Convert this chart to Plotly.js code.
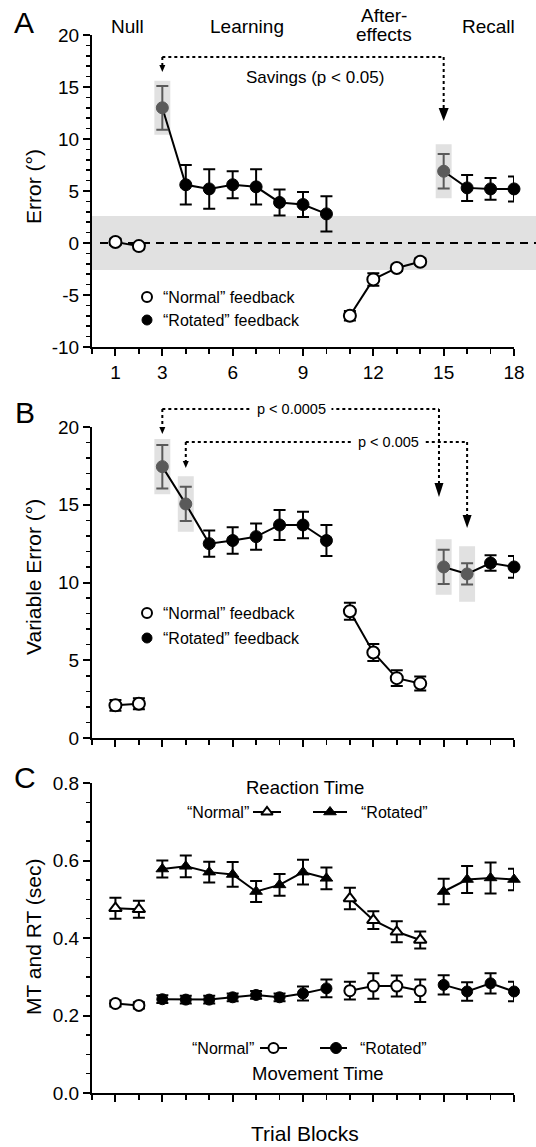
<!DOCTYPE html>
<html><head><meta charset="utf-8">
<script src="https://cdn.plot.ly/plotly-3.0.1.min.js"></script>
<style>html,body{margin:0;padding:0;background:#fff}</style>
</head><body><div id="chart" style="width:536px;height:1147px"></div>
<script>
// ---------------- data ----------------
const blocks   = [1,2,3,4,5,6,7,8,9,10,11,12,13,14,15,16,17,18];
const feedback = ['N','N','R','R','R','R','R','R','R','R','N','N','N','N','R','R','R','R'];
const xTickVals = [1,3,6,9,12,15,18];
const xTickText = ['1','3','6','9','12','15','18'];
const yTickValsA = [-10,-5,0,5,10,15,20];
const yTickTextA = ['-10','-5','0','5','10','15','20'];

// Panel A: directional error (deg) and SE
const errorA   = [0.1,-0.3,13.0,5.6,5.2,5.6,5.4,3.9,3.7,2.8,-7.0,-3.5,-2.4,-1.8,6.9,5.3,5.2,5.2];
const errorASE = [0.3,0.3,2.1,1.9,1.9,1.3,1.7,1.25,1.2,1.7,0.45,0.6,0.3,0.3,1.65,1.25,1.05,1.2];
const highlightA = [3,15];
const bandA = 2.6;

// Panel B: variable error (deg) and SE
const varErrB   = [2.1,2.2,17.45,15.05,12.5,12.7,12.95,13.7,13.7,12.7,8.15,5.5,3.85,3.5,11.0,10.55,11.25,11.0];
const varErrBSE = [0.35,0.35,1.4,1.1,0.85,0.85,0.85,0.97,0.85,1.0,0.55,0.55,0.5,0.45,1.1,0.68,0.5,0.7];
const highlightB = [3,4,15,16];
const bandB = 1.78;

// Panel C: reaction time and movement time (sec)
const reactionT   = [0.477,0.474,0.578,0.585,0.570,0.564,0.520,0.537,0.570,0.554,0.502,0.446,0.416,0.395,0.520,0.551,0.555,0.551];
const reactionTSE = [0.027,0.022,0.022,0.028,0.027,0.032,0.027,0.028,0.032,0.028,0.028,0.023,0.027,0.022,0.033,0.035,0.040,0.028];
const movementT   = [0.231,0.226,0.242,0.241,0.241,0.247,0.253,0.247,0.257,0.270,0.264,0.276,0.276,0.264,0.279,0.262,0.283,0.262];
const movementTSE = [0.008,0.008,0.010,0.010,0.010,0.010,0.010,0.010,0.018,0.023,0.023,0.033,0.027,0.029,0.025,0.024,0.026,0.025];

// ---------------- styling ----------------
const FONT = 'Liberation Sans, Arial, Helvetica, sans-serif';
const GRAY = '#5a5a5a';
const SHADE = '#e1e1e1';
const W = 536, H = 1147, ML = 92, MR = 22, MT = 35, MB = 54;
const PW = W - ML - MR, PH = H - MT - MB;
const bx = b => ML + b * PW / 18;       // block -> pixel x (overlay)
const pxX = x => (x - ML) / PW;           // pixel -> paper
const pxY = y => (H - MB - y) / PH;

const traces = [];
function mask(vals, cond){ return vals.map((v,i)=> cond(i) ? v : null); }

function panel(xa, ya, vals, se, hl, openSym, fillSym, sz){
  const isN = i => feedback[i]==='N';
  const isR = i => feedback[i]==='R';
  const isH = i => hl.indexOf(blocks[i]) >= 0;
  ['N','R'].forEach(f=>{
    traces.push({x:blocks, y:mask(vals,i=>feedback[i]===f), xaxis:xa, yaxis:ya, mode:'lines',
      line:{color:'#000', width:2}, hoverinfo:'skip', showlegend:false, cliponaxis:false});
  });
  const groups = [
    {cond:isN, fill:'#fff', lc:'#000', ec:'#000', sym:openSym, lw:2},
    {cond:i=>isR(i)&&!isH(i), fill:'#000', lc:'#000', ec:'#000', sym:fillSym, lw:1},
    {cond:i=>isR(i)&&isH(i), fill:GRAY, lc:GRAY, ec:GRAY, sym:fillSym, lw:1}
  ];
  groups.forEach(g=>{
    traces.push({x:blocks, y:mask(vals,g.cond), xaxis:xa, yaxis:ya, mode:'markers',
      error_y:{type:'data', array:mask(se,g.cond), color:g.ec, thickness:2, width:6},
      marker:{symbol:g.sym, size:sz, color:g.fill, line:{color:g.lc, width:g.lw}},
      hoverinfo:'skip', showlegend:false, cliponaxis:false});
  });
}
panel('x','y', errorA, errorASE, highlightA, 'circle','circle', 12);
panel('x2','y2', varErrB, varErrBSE, highlightB, 'circle','circle', 12);
panel('x3','y3', reactionT, reactionTSE, [], 'triangle-up','triangle-up', 11);
panel('x3','y3', movementT, movementTSE, [], 'circle','circle', 11);

// ---------------- legend glyphs (overlay pixel axis) ----------------
function glyph(x, y, sym, fill, size, lw){
  traces.push({x:x, y:y, xaxis:'x4', yaxis:'y4', mode:'markers', cliponaxis:false,
    marker:{symbol:sym, size:size, color:fill, line:{color:'#000', width:lw}}, hoverinfo:'skip', showlegend:false});
}
function lineG(x0, x1, y){
  traces.push({x:[x0,x1], y:[y,y], xaxis:'x4', yaxis:'y4', mode:'lines', cliponaxis:false,
    line:{color:'#000', width:2}, hoverinfo:'skip', showlegend:false});
}
glyph([147],[297],'circle','#fff',10,2);
glyph([147],[320],'circle','#000',10,1);
glyph([147],[613],'circle','#fff',10,2);
glyph([147],[638],'circle','#000',10,1);
lineG(253,281,812); glyph([267],[812],'triangle-up','#fff',10,2);
lineG(313,347,812); glyph([330],[812],'triangle-up','#000',11,1);
lineG(260,287,1048); glyph([273.5],[1048],'circle','#fff',10,2);
lineG(320,347,1048); glyph([336],[1048],'circle','#000',11,1);

// ---------------- shapes ----------------
const shapes = [];
shapes.push({type:'rect', xref:'paper', yref:'y', x0:0, x1:(W-ML)/PW, y0:-bandA, y1:bandA,
  fillcolor:SHADE, line:{width:0}, layer:'below'});
shapes.push({type:'line', xref:'paper', yref:'y', x0:8/PW, x1:(W-ML)/PW, y0:0, y1:0,
  line:{color:'#000', width:2, dash:'8px,6px'}, layer:'below'});
highlightA.forEach(b=>{
  const v = errorA[blocks.indexOf(b)];
  shapes.push({type:'rect', xref:'x', yref:'y', x0:b-0.34, x1:b+0.34, y0:v-bandA, y1:v+bandA,
    fillcolor:SHADE, line:{width:0}, layer:'below'});
});
highlightB.forEach(b=>{
  const v = varErrB[blocks.indexOf(b)];
  shapes.push({type:'rect', xref:'x2', yref:'y2', x0:b-0.34, x1:b+0.34, y0:v-bandB, y1:v+bandB,
    fillcolor:SHADE, line:{width:0}, layer:'below'});
});
function dotLine(x0,y0,x1,y1){
  shapes.push({type:'line', xref:'x4', yref:'y4', x0:x0,y0:y0,x1:x1,y1:y1,
    line:{color:'#000', width:2, dash:'dot'}});
}
function head(x, y0, tip, w){
  shapes.push({type:'path', xref:'x4', yref:'y4',
    path:`M ${x-w/2} ${y0} L ${x+w/2} ${y0} L ${x} ${tip} Z`, fillcolor:'#000', line:{width:0}});
}
// Panel A savings arrow
dotLine(bx(3),57,bx(15),57);
dotLine(bx(3),57,bx(3),65); head(bx(3),65,72,6);
dotLine(bx(15),57,bx(15),108); head(bx(15),108,121,10);
// Panel B arrows
dotLine(bx(3),409,bx(14.8),409);
dotLine(bx(3),409,bx(3),427); head(bx(3),427,434,6);
dotLine(bx(14.8),409,bx(14.8),483); head(bx(14.8),483,497,9);
dotLine(bx(4),442,bx(16),442);
dotLine(bx(4),442,bx(4),461); head(bx(4),461,468,6);
dotLine(bx(16),442,bx(16),515); head(bx(16),515,528,9);

// ---------------- annotations (paper refs, positions given in pixels) ----------------
const ann = [];
function txt(x,y,t,size,opts){
  ann.push(Object.assign({xref:'paper', yref:'paper', x:pxX(x), y:pxY(y), text:t, showarrow:false,
    xanchor:'center', yanchor:'middle', font:{family:FONT, size:size, color:'#000'}}, opts||{}));
}
txt(24,23,'A',30); txt(25,413,'B',30); txt(25,777,'C',30);
txt(127,27,'Null',19); txt(247,27,'Learning',19);
txt(384,16,'After-',19); txt(384,34,'effects',19);
txt(488,27,'Recall',19);
txt(33,187,'Error (°)',21,{textangle:-90});
txt(33,577,'Variable Error (°)',21,{textangle:-90});
txt(33,937,'MT and RT (sec)',21,{textangle:-90});
txt(305,1133,'Trial Blocks',21);
txt(315,77,'Savings (p &lt; 0.05)',17);
txt(291,409,' p &lt; 0.0005 ',14.5,{bgcolor:'#fff'});
txt(388,442,' p &lt; 0.005 ',14.5,{bgcolor:'#fff'});
txt(161,297,'“Normal” feedback',16,{xanchor:'left'});
txt(161,320,'“Rotated” feedback',16,{xanchor:'left'});
txt(161,613,'“Normal” feedback',16,{xanchor:'left'});
txt(161,638,'“Rotated” feedback',16,{xanchor:'left'});
txt(305,787,'Reaction Time',18.5);
txt(251,812,'“Normal”',16,{xanchor:'right'});
txt(359,812,'“Rotated”',16,{xanchor:'left'});
txt(256,1048,'“Normal”',16,{xanchor:'right'});
txt(358,1048,'“Rotated”',16,{xanchor:'left'});
txt(318,1073,'Movement Time',18.5);

// ---------------- layout ----------------
const axBase = {showline:true, linewidth:2, linecolor:'#000', ticks:'outside', ticklen:7, tickwidth:2,
  tickcolor:'#000', showgrid:false, zeroline:false, fixedrange:true,
  tickfont:{family:FONT, size:19, color:'#000'}};
const xBase = Object.assign({}, axBase, {range:[0,18], domain:[0,1], tickmode:'array',
  tickvals:xTickVals, ticktext:xTickText,
  minor:{tickmode:'linear', tick0:0, dtick:1, ticklen:5, tickwidth:1.5, tickcolor:'#000'}});
const dom = (top,bot) => [pxY(bot), pxY(top)];

const layout = {
  width:W, height:H, margin:{l:ML, r:MR, t:MT, b:MB}, paper_bgcolor:'#fff', plot_bgcolor:'rgba(0,0,0,0)',
  font:{family:FONT, color:'#000'}, showlegend:false,
  xaxis: Object.assign({}, xBase, {anchor:'y'}),
  xaxis2: Object.assign({}, xBase, {anchor:'y2', showticklabels:false}),
  xaxis3: Object.assign({}, xBase, {anchor:'y3', showticklabels:false}),
  yaxis: Object.assign({}, axBase, {anchor:'x', domain:dom(35,347), range:[-10,20], tickmode:'array',
    tickvals:yTickValsA, ticktext:yTickTextA,
    minor:{tickmode:'linear', tick0:0, dtick:1, ticklen:4, tickwidth:1.5, tickcolor:'#000'}}),
  yaxis2: Object.assign({}, axBase, {anchor:'x2', domain:dom(427,738), range:[0,20], dtick:5, tick0:0,
    minor:{tickmode:'linear', tick0:0, dtick:1, ticklen:4, tickwidth:1.5, tickcolor:'#000'}}),
  yaxis3: Object.assign({}, axBase, {anchor:'x3', domain:dom(783,1093), range:[0,0.8], dtick:0.2, tick0:0,
    tickformat:'.1f',
    minor:{tickmode:'linear', tick0:0, dtick:0.05, ticklen:4, tickwidth:1.5, tickcolor:'#000'}}),
  xaxis4: {domain:[0,1], range:[ML, W-MR], visible:false, anchor:'y4', fixedrange:true},
  yaxis4: {domain:[0,1], range:[H-MB, MT], visible:false, anchor:'x4', fixedrange:true},
  shapes: shapes,
  annotations: ann
};

Plotly.newPlot('chart', traces, layout, {staticPlot:true, displayModeBar:false});
</script>
</body></html>
